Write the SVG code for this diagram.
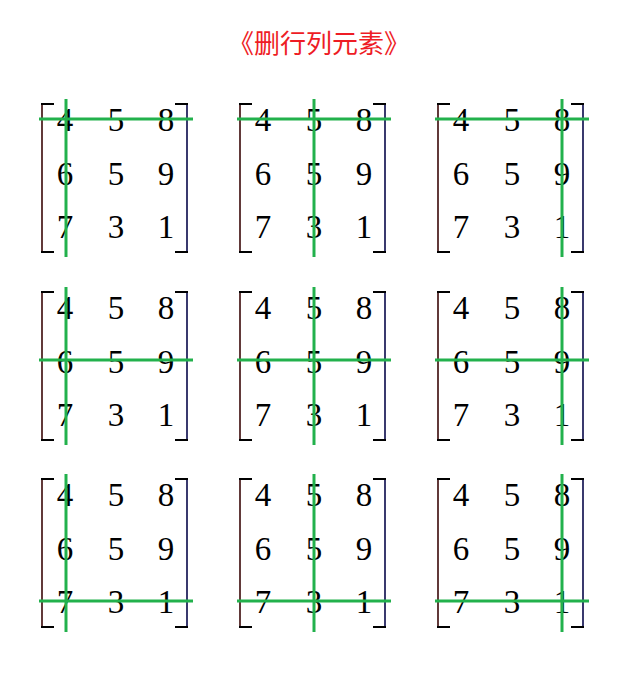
<svg xmlns="http://www.w3.org/2000/svg" width="625" height="679" viewBox="0 0 625 679">
<defs>
<style>
.t{font-family:"Noto Sans CJK SC","Noto Sans CJK JP",sans-serif;font-size:26px;fill:#ee1c25;text-anchor:middle}
.d{font-family:"Liberation Serif","Times New Roman",serif;font-size:33px;fill:#000;text-anchor:middle}
.bl{fill:none;stroke:#3a0808;stroke-width:1.6}
.br{fill:none;stroke:#08084a;stroke-width:1.6}
.s{fill:none;stroke:#000;stroke-width:2}
.g{stroke:#22b14c;stroke-width:3;fill:none}
</style>
<g id="mat">
<line class="bl" x1="42" y1="103" x2="42" y2="253"/>
<line class="br" x1="187" y1="103" x2="187" y2="253"/>
<path class="s" d="M41,104 H54 M41,252 H54 M175,104 H188 M175,252 H188"/>
<text class="d" x="65" y="131">4</text><text class="d" x="116" y="131">5</text><text class="d" x="166" y="131">8</text>
<text class="d" x="65" y="185">6</text><text class="d" x="116" y="185">5</text><text class="d" x="166" y="185">9</text>
<text class="d" x="65" y="238">7</text><text class="d" x="116" y="238">3</text><text class="d" x="166" y="238">1</text>
</g>
</defs>
<text class="t" x="319" y="53">《删行列元素》</text>
<g id="m11"><use href="#mat" x="0" y="0"/><line class="g" x1="39" y1="119" x2="193" y2="119"/><line class="g" x1="66" y1="99" x2="66" y2="257"/></g>
<g id="m12"><use href="#mat" x="198" y="0"/><line class="g" x1="237" y1="119" x2="391" y2="119"/><line class="g" x1="314" y1="99" x2="314" y2="257"/></g>
<g id="m13"><use href="#mat" x="396" y="0"/><line class="g" x1="435" y1="119" x2="589" y2="119"/><line class="g" x1="562" y1="99" x2="562" y2="257"/></g>
<g id="m21"><use href="#mat" x="0" y="188"/><line class="g" x1="39" y1="360" x2="193" y2="360"/><line class="g" x1="66" y1="287" x2="66" y2="445"/></g>
<g id="m22"><use href="#mat" x="198" y="188"/><line class="g" x1="237" y1="360" x2="391" y2="360"/><line class="g" x1="314" y1="287" x2="314" y2="445"/></g>
<g id="m23"><use href="#mat" x="396" y="188"/><line class="g" x1="435" y1="360" x2="589" y2="360"/><line class="g" x1="562" y1="287" x2="562" y2="445"/></g>
<g id="m31"><use href="#mat" x="0" y="375"/><line class="g" x1="39" y1="601" x2="193" y2="601"/><line class="g" x1="66" y1="474" x2="66" y2="632"/></g>
<g id="m32"><use href="#mat" x="198" y="375"/><line class="g" x1="237" y1="601" x2="391" y2="601"/><line class="g" x1="314" y1="474" x2="314" y2="632"/></g>
<g id="m33"><use href="#mat" x="396" y="375"/><line class="g" x1="435" y1="601" x2="589" y2="601"/><line class="g" x1="562" y1="474" x2="562" y2="632"/></g>
</svg>
